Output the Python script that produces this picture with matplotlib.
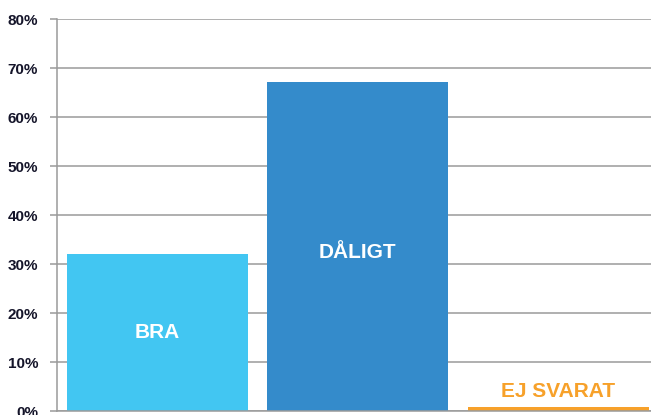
import matplotlib
matplotlib.use("Agg")
import matplotlib.pyplot as plt
from matplotlib.ticker import FuncFormatter

# dati
categorie = ["BRA", "DÅLIGT", "EJ SVARAT"]
valori = [32.0, 67.1, 0.9]
colori = ["#42C6F2", "#348BCB", "#F7A12A"]
colori_testo = ["white", "white", "#F7A12A"]
pos_testo = [14.9, 31.2, 2.9]
tacche = [0, 10, 20, 30, 40, 50, 60, 70, 80]

plt.rcParams["font.family"] = ["Liberation Sans", "DejaVu Sans"]

fig = plt.figure(figsize=(6.51, 4.15), dpi=100)
ax = fig.add_axes([57 / 651, 4 / 415, 601.5 / 651, 392 / 415])

x = range(len(categorie))
ax.bar(x, valori, width=0.905, color=colori, zorder=3)

for i, nome in enumerate(categorie):
    ax.text(i, pos_testo[i], nome, ha="center", va="baseline",
            color=colori_testo[i], fontsize=15, fontweight="bold", zorder=4)

ax.set_xlim(-0.5, 2.5)
ax.set_ylim(0, 80)
ax.set_yticks(tacche)
ax.yaxis.set_major_formatter(FuncFormatter(lambda v, p: f"{int(v)}%"))
ax.set_xticks([])

ax.grid(axis="y", color="#9a9a9a", linewidth=1.1, zorder=1)
for s in ["top", "right"]:
    ax.spines[s].set_visible(False)
for s in ["left", "bottom"]:
    ax.spines[s].set_color("#9a9a9a")
    ax.spines[s].set_linewidth(1.1)
    ax.spines[s].set_zorder(5)
ax.tick_params(axis="y", length=5, width=1.1, color="#9a9a9a", pad=8.5,
               labelsize=11, labelcolor="#15152a")
for t in ax.get_yticklabels():
    t.set_fontweight("bold")

fig.savefig("out.png", dpi=100)
